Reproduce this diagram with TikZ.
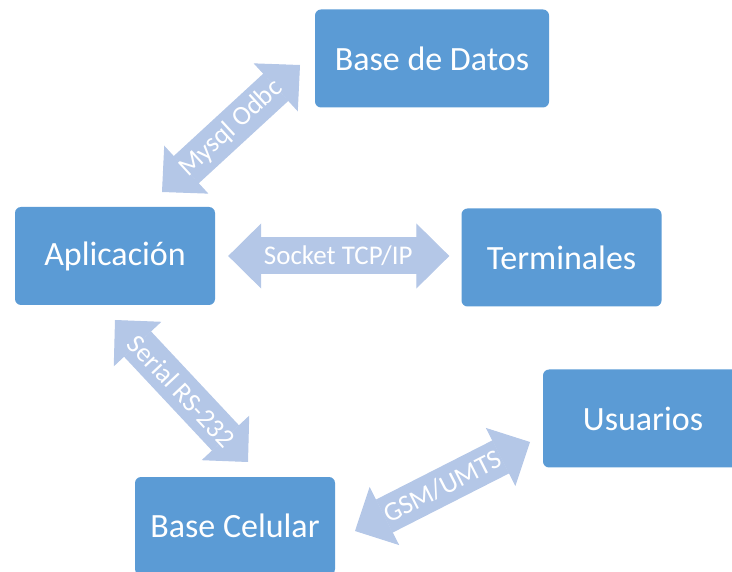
\documentclass[tikz,border=0pt]{standalone}
\usepackage{fontspec}
\setmainfont{Carlito}
\usetikzlibrary{arrows.meta}
\definecolor{boxblue}{HTML}{5B9BD5}
\definecolor{linkblue}{HTML}{B4C7E7}

\begin{document}
\begin{tikzpicture}[x=1pt,y=-1pt]
\tikzstyle{box}=[rectangle, fill=boxblue, rounded corners=6pt, text=white,
                        minimum width=200pt, minimum height=98pt, font=\fontsize{34}{40}\selectfont]
\tikzstyle{link}=[draw=linkblue, line width=37pt,
                        {Triangle[length=33pt,width=65pt,line width=1pt]}-{Triangle[length=33pt,width=65pt,line width=1pt]}]
\tikzstyle{lbl}=[sloped, text=white, font=\fontsize{27}{32}\selectfont]
\useasboundingbox (0,0) rectangle (732,572);
	\node[box, minimum width=234pt] (bd) at (432,58.5){Base de Datos};
	\node[box] (apl) at (115,256){Aplicación};
	\node[box] (term) at (561.5,257.5){Terminales};
	\node[box] (usu) at (643,418.5){Usuarios};
	\node[box] (cel) at (235,526){Base Celular};
	\coordinate (odbcA) at (162,192);
	\coordinate (odbcB) at (300,65);
	\coordinate (rsA) at (115,320);
	\coordinate (rsB) at (248,462);
	\coordinate (gsmA) at (355,531);
	\coordinate (gsmB) at (530,442);
\draw[link] (odbcA)--node[lbl]{Mysql Odbc}(odbcB);
\draw[link, shorten <=13pt, shorten >=12pt] (apl.east)--node[lbl]{Socket TCP/IP}(term.west |- apl.east);
\draw[link] (rsA)--node[lbl]{Serial RS-232}(rsB);
\draw[link] (gsmA)--node[lbl]{GSM/UMTS}(gsmB);
\end{tikzpicture}
\end{document}
